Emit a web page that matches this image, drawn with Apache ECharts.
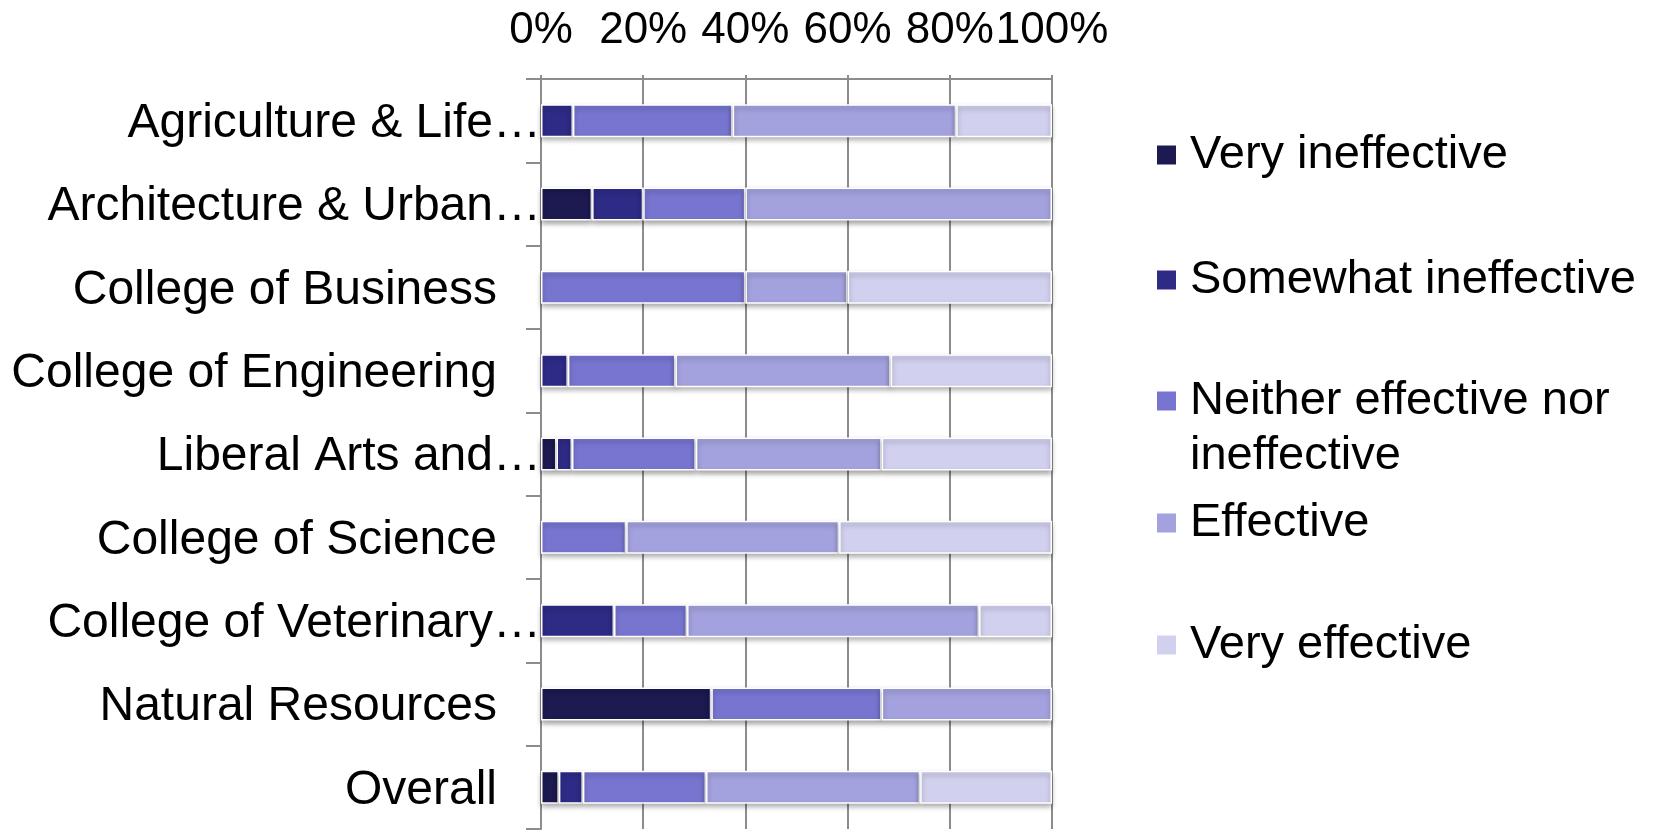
<!DOCTYPE html>
<html>
<head>
<meta charset="utf-8">
<script src="https://cdn.jsdelivr.net/npm/echarts@6/dist/echarts.min.js"></script>
<style>
  html, body { margin: 0; padding: 0; background: #fff; }
  #chart { width: 1656px; height: 832px; }
</style>
</head>
<body>
<div id="chart"></div>
<script>
// categories, top to bottom
var categories = ['Agriculture & Life…', 'Architecture & Urban…', 'College of Business',
  'College of Engineering', 'Liberal Arts and…', 'College of Science',
  'College of Veterinary…', 'Natural Resources', 'Overall'];

// share of answers (%) per category
var veryIneffective     = [0, 10, 0, 0, 3.03, 0, 0, 33.33, 3.5];
var somewhatIneffective = [6.25, 10, 0, 5.26, 3.03, 0, 14.29, 0, 4.7];
var neither             = [31.25, 20, 40, 21.05, 24.24, 16.67, 14.29, 33.33, 24.1];
var effective           = [43.75, 60, 20, 42.11, 36.36, 41.67, 57.14, 33.33, 41.9];
var veryEffective       = [18.75, 0, 40, 31.58, 33.33, 41.67, 14.29, 0, 25.8];

var seriesNames = ['Very ineffective', 'Somewhat ineffective', 'Neither effective nor ineffective', 'Effective', 'Very effective'];
var xTicks = [0, 20, 40, 60, 80, 100];

var colors = ['#1c1a50', '#2e2b87', '#7775d0', '#a3a2de', '#d1d1ef'];
var allData = [veryIneffective, somewhatIneffective, neither, effective, veryEffective];

var chart = echarts.init(document.getElementById('chart'));
var font = 'Liberation Sans, Arial, sans-serif';
var gridGray = '#8c8c8c';

// legend: one block per item so the spacing follows the picture
var legendCenters = [155, 280, 401, 523, 645];
var legends = seriesNames.map(function (name, i) {
  var twoLines = i === 2;
  var lh = twoLines ? 55 : 52;
  return {
    show: true,
    data: [name],
    orient: 'vertical',
    left: 1155,
    top: twoLines ? legendCenters[i] - lh * 1.5 : legendCenters[i] - lh / 2,
    padding: 0,
    icon: 'rect',
    itemWidth: 21,
    itemHeight: 21,
    selectedMode: false,
    formatter: function (n) {
      // blank first line keeps the icon level with the first text line
      return n === 'Neither effective nor ineffective' ? ' \nNeither effective nor\nineffective' : n;
    },
    textStyle: {
      fontFamily: font,
      fontSize: 47,
      color: '#000',
      lineHeight: lh,
      padding: [0, 0, 0, 8]
    }
  };
});

var option = {
  backgroundColor: '#fff',
  animation: false,
  color: colors,
  legend: legends,
  grid: { left: 541, right: 604, top: 79, bottom: 3, containLabel: false },
  xAxis: {
    type: 'value',
    position: 'top',
    min: xTicks[0],
    max: xTicks[xTicks.length - 1],
    interval: 20,
    axisLine: { show: true, lineStyle: { color: gridGray, width: 2 } },
    axisTick: { show: true, length: 4, lineStyle: { color: gridGray, width: 2 } },
    splitLine: { show: true, lineStyle: { color: gridGray, width: 2 } },
    axisLabel: {
      formatter: '{value}%',
      fontFamily: font,
      fontSize: 44,
      color: '#000',
      margin: 26
    }
  },
  yAxis: {
    type: 'category',
    inverse: true,
    data: categories,
    axisLine: { show: true, lineStyle: { color: gridGray, width: 2 } },
    axisTick: { show: true, length: 15, lineStyle: { color: gridGray, width: 2 } },
    axisLabel: {
      margin: 0,
      color: '#000',
      fontFamily: font,
      fontSize: 48,
      formatter: function (v) {
        // cut labels run up to the axis, full ones keep a gap
        return v.indexOf('…') >= 0 ? '{t|' + v + '}' : '{n|' + v + '}';
      },
      rich: {
        t: { fontFamily: font, fontSize: 48, color: '#000', padding: [6, 0, 0, 0] },
        n: { fontFamily: font, fontSize: 48, color: '#000', padding: [6, 44, 0, 0] }
      }
    }
  },
  series: seriesNames.map(function (name, i) {
    return {
      name: name,
      type: 'bar',
      stack: 'total',
      barWidth: 33,
      data: allData[i].map(function (v) { return v === 0 ? '-' : v; }),
      itemStyle: {
        color: colors[i],
        borderColor: '#fff',
        borderWidth: 1.5,
        shadowColor: 'rgba(0,0,0,0.35)',
        shadowBlur: 5,
        shadowOffsetY: 3
      }
    };
  })
};

chart.setOption(option);
</script>
</body>
</html>
